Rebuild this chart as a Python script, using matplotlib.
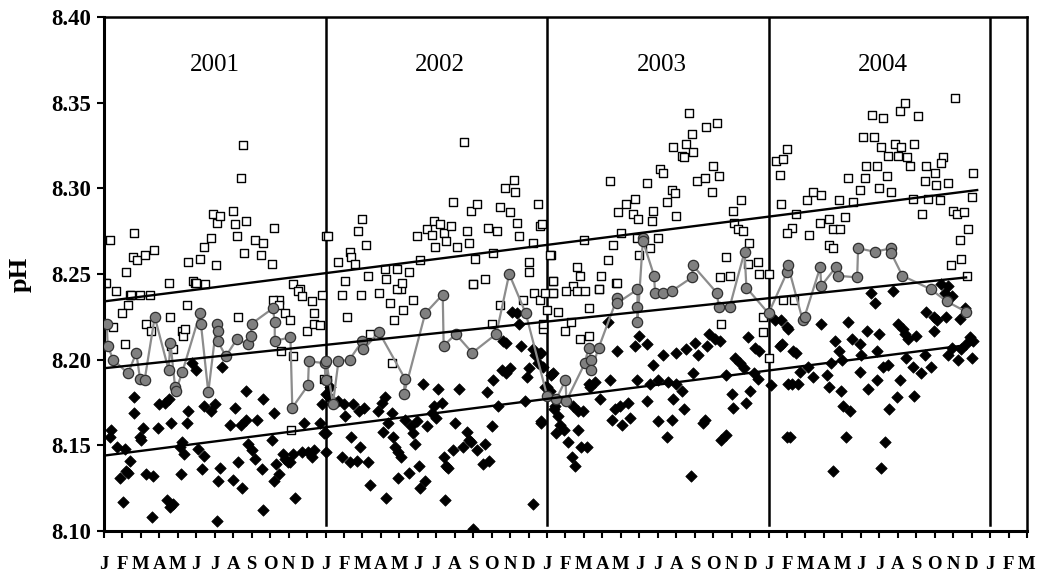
import numpy as np
import matplotlib
matplotlib.use("Agg")
import matplotlib.pyplot as plt

# months since Jan 2001 (0 = 1 Jan 2001), pH values
sq_x = [0.3, 0.05, 0.65, 1.6, 1.2, 1.55, 1.8, 2.2, 2.7, 1.4, 1.95, 2.5, 3.5, 4.55, 5.2, 4.8, 4.95, 5.45,
        6.05, 5.4, 5.8, 6.1, 5.9, 6.3, 7.0, 7.1, 7.7, 7.2, 7.6, 7.4, 7.55, 8.2, 8.6, 8.5, 9.1, 9.2, 10.25,
        10.6, 9.5, 11.8, 12.05,
        0.1, 1.45, 1.3, 0.95, 0.5, 1.15, 2.3, 2.55, 3.55, 3.65, 3.75, 4.2, 4.3, 4.4, 4.5, 5.0, 7.25, 9.15,
        9.5, 9.8, 10.1, 10.5, 9.6, 10.25, 10.7, 11.0, 11.25, 11.35, 11.4, 11.7, 10.15, 11.9, 12.1,
        12.15, 13.95, 13.75, 14.2, 13.3, 13.4, 13.6, 12.7, 13.05, 14.3, 15.2, 15.3, 15.85, 16.1, 16.5, 17.1,
        16.95, 17.5, 17.85, 17.75, 17.95, 18.2, 18.4, 18.8, 18.55, 19.1, 19.65, 19.75, 18.9, 19.9, 20.2,
        19.5, 20.1, 20.0, 20.65, 20.8, 21.3, 21.1, 21.45, 22.0, 21.7, 22.2, 22.25, 22.35, 22.5, 23.25, 23.5,
        23.6, 23.0, 23.05, 24.2, 24.35, 23.3,
        12.9, 13.15, 13.9, 14.4, 14.9, 15.5, 15.85, 16.15, 16.2, 15.7, 15.6, 16.75, 21.45, 21.0, 20.0, 22.7,
        23.6, 23.8, 24.35,
        23.75, 24.15, 24.3, 25.6, 25.8, 26.0, 25.4, 26.9, 26.8, 27.3, 27.4, 27.75, 27.85, 28.0, 27.6, 28.3,
        28.75, 28.65, 28.95, 29.0, 28.85, 29.4, 29.7, 29.75, 30.0, 29.6, 30.1, 30.3, 30.5, 30.75, 30.95,
        31.0, 30.8, 31.3, 31.4, 31.55, 31.85, 31.7, 31.9, 32.6, 33.2, 32.1, 32.55, 33.0, 33.3, 32.95, 34.1,
        34.5, 34.15, 34.35, 34.6, 34.95, 33.7, 33.9, 33.35, 34.9, 35.45, 35.5, 36.05, 36.4, 37.0, 36.6, 36.7,
        23.9, 24.0, 23.8, 24.35, 24.6, 24.95, 25.3, 25.05, 25.6, 26.3, 25.8, 26.3, 26.05, 26.8, 27.8, 33.45,
        35.7, 35.7, 36.05,
        36.8, 38.1, 38.4, 38.85, 37.25, 37.5, 38.2, 38.8, 39.3, 39.5, 39.85, 39.3, 39.5, 39.8, 40.15, 40.6,
        40.3, 40.95, 41.2, 41.3, 41.1, 41.7, 41.85, 42.0, 42.1, 41.6, 42.2, 42.4, 42.65, 42.45, 42.85, 43.0,
        43.2, 43.1, 43.4, 43.5, 43.65, 43.9, 44.1, 43.8, 44.3, 44.55, 44.65, 45.0, 45.3, 44.5, 45.05, 45.45,
        45.35, 45.7, 46.1, 46.0, 46.2, 46.6, 47.0, 47.1, 46.8, 46.35, 46.45, 45.9, 46.75, 36.8, 37.4, 37.0]
sq_y = [8.270, 8.245, 8.240, 8.274, 8.251, 8.260, 8.258, 8.261, 8.264, 8.238, 8.238, 8.238, 8.245, 8.257,
        8.259, 8.246, 8.245, 8.244, 8.255, 8.266, 8.271, 8.280, 8.285, 8.284, 8.287, 8.279, 8.281, 8.272,
        8.262, 8.306, 8.325, 8.270, 8.268, 8.261, 8.256, 8.277, 8.244, 8.241, 8.235, 8.238, 8.272,
        8.245, 8.238, 8.232, 8.227, 8.219, 8.209, 8.221, 8.217, 8.225, 8.208, 8.206, 8.217, 8.214, 8.218,
        8.232, 8.245, 8.225, 8.235, 8.232, 8.227, 8.223, 8.240, 8.205, 8.202, 8.237, 8.217, 8.234, 8.227,
        8.221, 8.220, 8.159, 8.189, 8.188,
        8.272, 8.282, 8.275, 8.267, 8.263, 8.260, 8.256, 8.257, 8.246, 8.249, 8.253, 8.247, 8.253, 8.241,
        8.251, 8.258, 8.272, 8.276, 8.281, 8.273, 8.266, 8.279, 8.274, 8.278, 8.269, 8.266, 8.275, 8.268,
        8.292, 8.287, 8.291, 8.327, 8.259, 8.244, 8.247, 8.277, 8.275, 8.262, 8.289, 8.286, 8.300, 8.305,
        8.298, 8.280, 8.272, 8.268, 8.291, 8.278, 8.257, 8.251, 8.261, 8.246, 8.239,
        8.238, 8.225, 8.238, 8.215, 8.239, 8.233, 8.241, 8.245, 8.229, 8.223, 8.198, 8.235, 8.232, 8.221,
        8.244, 8.235, 8.235, 8.218, 8.239,
        8.279, 8.261, 8.246, 8.254, 8.249, 8.270, 8.243, 8.249, 8.241, 8.258, 8.304, 8.245, 8.286, 8.274,
        8.267, 8.291, 8.294, 8.285, 8.282, 8.261, 8.271, 8.303, 8.281, 8.287, 8.271, 8.265, 8.311, 8.309,
        8.292, 8.299, 8.297, 8.284, 8.324, 8.319, 8.318, 8.326, 8.332, 8.344, 8.321, 8.336, 8.338, 8.304,
        8.306, 8.313, 8.307, 8.298, 8.287, 8.293, 8.280, 8.276, 8.275, 8.268, 8.260, 8.249, 8.248, 8.256,
        8.257, 8.250, 8.250, 8.316, 8.323, 8.308, 8.291,
        8.239, 8.229, 8.221, 8.239, 8.228, 8.217, 8.222, 8.240, 8.240, 8.230, 8.212, 8.214, 8.240, 8.241,
        8.245, 8.221, 8.216, 8.225, 8.201,
        8.317, 8.293, 8.298, 8.296, 8.277, 8.285, 8.273, 8.280, 8.282, 8.276, 8.276, 8.267, 8.265, 8.293,
        8.283, 8.292, 8.306, 8.299, 8.306, 8.313, 8.330, 8.330, 8.313, 8.300, 8.324, 8.343, 8.341, 8.307,
        8.298, 8.319, 8.326, 8.319, 8.324, 8.345, 8.350, 8.318, 8.313, 8.326, 8.342, 8.294, 8.285, 8.313,
        8.294, 8.309, 8.293, 8.304, 8.302, 8.318, 8.315, 8.303, 8.353, 8.287, 8.285, 8.286, 8.295, 8.309,
        8.276, 8.270, 8.259, 8.255, 8.249, 8.235, 8.235, 8.274]

ci_x = [0.15, 0.2, 0.5, 1.3, 1.75, 1.95, 2.2, 2.75, 3.5, 3.6, 3.85, 3.9, 4.25, 5.2, 5.25, 5.65, 6.1, 6.15,
        6.15, 6.6, 7.2, 7.8, 7.95, 8.0, 9.15, 9.25, 9.25, 10.1, 10.2, 11.05, 11.1, 11.95, 12.0,
        12.05, 12.4, 12.7, 13.3, 14.0, 14.05, 14.9, 16.3, 16.25, 17.4, 18.35, 18.4, 19.05, 19.95, 21.25,
        21.95, 22.85,
        24.0, 24.5, 25.0, 25.05, 26.05, 26.25, 26.4, 26.4, 26.8, 27.8, 27.8, 28.9, 28.9, 28.9, 29.2, 29.2,
        29.8, 29.85, 30.3, 30.75, 31.85, 31.9, 33.2, 33.3, 33.9, 34.7, 34.8, 36.0,
        37.0, 37.05, 37.85, 37.95, 38.8, 38.85, 39.65, 39.75, 40.8, 40.85, 41.75, 42.65, 42.65, 43.25, 44.8,
        45.65, 46.7]
ci_y = [8.221, 8.208, 8.200, 8.192, 8.204, 8.189, 8.188, 8.225, 8.194, 8.210, 8.184, 8.182, 8.193, 8.227,
        8.221, 8.181, 8.221, 8.217, 8.211, 8.202, 8.212, 8.209, 8.214, 8.221, 8.230, 8.222, 8.211, 8.213,
        8.172, 8.185, 8.199, 8.198, 8.188,
        8.199, 8.174, 8.199, 8.200, 8.211, 8.206, 8.216, 8.189, 8.180, 8.227, 8.238, 8.208, 8.215, 8.204,
        8.215, 8.250, 8.227,
        8.179, 8.177, 8.188, 8.176, 8.198, 8.207, 8.200, 8.194, 8.207, 8.236, 8.233, 8.241, 8.231, 8.222,
        8.271, 8.269, 8.249, 8.239, 8.239, 8.240, 8.248, 8.255, 8.239, 8.231, 8.231, 8.263, 8.242, 8.227,
        8.251, 8.255, 8.223, 8.225, 8.254, 8.243, 8.254, 8.249, 8.248, 8.265, 8.263, 8.265, 8.262, 8.249,
        8.241, 8.234, 8.228]

di_x = [0.4, 0.3, 0.7, 1.15, 0.85, 1.05, 1.2, 1.4, 1.3, 1.6, 1.65, 1.95, 2.1, 2.0, 2.25, 2.6, 2.65, 2.9,
        3.0, 3.3, 3.5, 3.65, 3.4, 3.55, 3.75, 4.1, 4.25, 4.35, 4.15, 4.55, 4.5, 4.75, 5.0, 5.1, 5.4, 5.3,
        5.4, 5.8, 6.0, 6.1, 6.2, 6.3, 6.4, 7.1, 6.8, 7.0, 7.25, 7.5, 7.4, 7.7, 7.7, 7.8, 8.0, 8.2, 8.3, 8.55,
        8.6, 8.6, 9.1, 9.2, 9.2, 9.3, 9.5, 9.7, 9.8, 9.95, 10.1, 10.35, 10.25, 10.7, 10.85, 11.05, 11.25,
        11.4, 11.7, 11.8, 11.9, 12.0, 12.05,
        12.0, 12.25, 12.2, 12.7, 13.0, 13.05, 13.4, 13.5, 13.8, 13.85, 14.1, 12.9, 13.35, 13.7, 14.3, 14.4,
        14.85, 15.05, 15.2, 15.1, 15.4, 15.6, 15.3, 15.65, 15.75, 15.95, 16.1, 16.3, 16.75, 16.65, 16.85,
        16.95, 16.5, 15.95, 17.05, 17.1, 17.4, 17.3, 17.5, 17.75, 17.9, 18.1, 18.3, 18.0, 18.45, 18.4,
        18.55, 18.65, 18.9, 19.0, 19.25, 19.45, 19.65, 19.75, 19.9, 20.0, 20.2, 20.65, 20.55, 20.85, 20.75,
        21.0, 21.1, 21.35, 21.55, 21.8, 22.0, 21.6, 21.8, 22.1, 22.35, 22.5, 22.6, 22.8, 22.9, 23.05,
        23.25, 23.35, 23.5, 23.6, 23.25, 23.7, 24.0, 24.2, 24.45,
        23.7, 23.8, 23.9, 23.7, 24.3, 24.15, 24.4, 24.6, 24.7, 24.5, 24.9, 25.15, 25.35, 25.5, 25.7, 25.4,
        25.7, 25.95, 25.85, 26.15, 26.25, 26.35, 26.6, 26.85, 27.3, 27.4, 27.5, 27.8, 27.7, 27.95, 28.05,
        28.4, 28.5, 28.75, 28.85, 29.0, 29.4, 29.4, 29.6, 29.75, 30.0, 30.0, 30.3, 30.5, 30.55, 30.75,
        30.85, 31.0, 31.0, 31.3, 31.4, 31.55, 31.8, 31.9, 32.0, 32.2, 32.45, 32.55, 32.65, 32.8, 33.1,
        33.35, 33.45, 33.7, 33.7, 34.0, 34.1, 34.2, 34.45, 34.65, 34.8, 34.9, 35.0, 35.2, 35.25, 35.45,
        35.5, 36.15, 36.35, 36.6, 37.0, 37.05, 37.0,
        36.7, 36.75, 37.05, 37.15, 37.3, 37.5, 37.25, 37.6, 37.7, 38.15, 38.4, 38.85, 39.15, 39.3, 39.5,
        39.6, 39.4, 39.8, 39.9, 40.0, 40.05, 40.2, 40.4, 40.3, 40.5, 40.95, 41.0, 40.95, 41.4, 41.35, 41.55,
        41.75, 41.85, 41.85, 42.0, 42.1, 42.3, 42.2, 42.45, 42.55, 42.75, 42.95, 43.0, 43.1, 43.3, 43.4,
        43.55, 43.45, 43.8, 43.9, 44.0, 44.25, 44.45, 44.55, 44.8, 44.95, 44.95, 45.1, 45.35, 45.55, 45.7,
        45.7, 45.95, 45.6, 45.95, 46.25, 46.35, 46.45, 46.65, 46.7, 46.9, 47.0, 47.1]
di_y = [8.159, 8.155, 8.149, 8.148, 8.131, 8.117, 8.135, 8.141, 8.134, 8.178, 8.169, 8.155, 8.160, 8.153,
        8.133, 8.108, 8.132, 8.160, 8.174, 8.175, 8.177, 8.163, 8.118, 8.114, 8.116, 8.149, 8.152, 8.145,
        8.133, 8.170, 8.163, 8.198, 8.194, 8.148, 8.144, 8.136, 8.173, 8.170, 8.174, 8.106, 8.129, 8.137,
        8.196, 8.172, 8.162, 8.130, 8.140, 8.125, 8.162, 8.182, 8.165, 8.151, 8.147, 8.142, 8.165, 8.136,
        8.177, 8.112, 8.153, 8.169, 8.129, 8.139, 8.133, 8.145, 8.142, 8.140, 8.140, 8.119, 8.145, 8.146,
        8.163, 8.146, 8.143, 8.147, 8.163, 8.174, 8.157, 8.146, 8.180,
        8.157, 8.184, 8.178, 8.176, 8.174, 8.167, 8.155, 8.174, 8.170, 8.149, 8.172, 8.143, 8.140, 8.141,
        8.140, 8.127, 8.170, 8.175, 8.178, 8.158, 8.163, 8.169, 8.119, 8.155, 8.149, 8.146, 8.143, 8.165,
        8.157, 8.161, 8.151, 8.164, 8.134, 8.131, 8.138, 8.125, 8.129, 8.186, 8.161, 8.169, 8.173, 8.183,
        8.175, 8.166, 8.118, 8.143, 8.138, 8.137, 8.147, 8.163, 8.183, 8.149, 8.158, 8.153, 8.152, 8.101,
        8.147, 8.151, 8.139, 8.141, 8.181, 8.161, 8.188, 8.173, 8.194, 8.192, 8.195, 8.211, 8.210, 8.228,
        8.227, 8.221, 8.208, 8.176, 8.190, 8.195, 8.206, 8.203, 8.198, 8.204, 8.116, 8.163, 8.184, 8.191,
        8.173,
        8.204, 8.196, 8.184, 8.164, 8.192, 8.182, 8.171, 8.167, 8.162, 8.157, 8.159, 8.152, 8.143, 8.138,
        8.159, 8.173, 8.170, 8.170, 8.149, 8.149, 8.186, 8.184, 8.187, 8.177, 8.222, 8.188, 8.165, 8.205,
        8.171, 8.173, 8.162, 8.175, 8.166, 8.208, 8.188, 8.214, 8.209, 8.176, 8.186, 8.197, 8.188, 8.164,
        8.203, 8.155, 8.187, 8.165, 8.177, 8.204, 8.186, 8.182, 8.171, 8.206, 8.132, 8.192, 8.210, 8.203,
        8.163, 8.165, 8.208, 8.215, 8.212, 8.211, 8.153, 8.156, 8.191, 8.180, 8.172, 8.201, 8.198, 8.195,
        8.175, 8.213, 8.182, 8.192, 8.207, 8.189, 8.205, 8.185, 8.223, 8.208, 8.155, 8.186, 8.219,
        8.223, 8.209, 8.218, 8.155, 8.205, 8.204, 8.186, 8.186, 8.193, 8.196, 8.190, 8.221, 8.191, 8.184,
        8.135, 8.211, 8.198, 8.205, 8.182, 8.200, 8.173, 8.155, 8.170, 8.222, 8.212, 8.209, 8.203, 8.193,
        8.183, 8.217, 8.239, 8.233, 8.205, 8.188, 8.215, 8.137, 8.152, 8.196, 8.197, 8.171, 8.240, 8.178,
        8.221, 8.188, 8.218, 8.215, 8.212, 8.201, 8.196, 8.179, 8.214, 8.192, 8.203, 8.228, 8.196, 8.225,
        8.217, 8.223, 8.244, 8.239, 8.243, 8.203, 8.237, 8.225, 8.207, 8.200, 8.224, 8.206, 8.230, 8.209,
        8.213, 8.201, 8.211]

# linear trends (start/end month, start/end pH)
trend_x = [[0, 47.3], [0, 46.7], [0, 47.1]]
trend_y = [[8.234, 8.299], [8.195, 8.248], [8.144, 8.209]]

years = ["2001", "2002", "2003", "2004"]
year_x = [6.0, 18.2, 30.2, 42.2]
year_lines = [12, 24, 36, 48]
month_labels = list("JFMAMJJASOND") * 4 + ["J", "F", "M"]

fig = plt.figure(figsize=(10.42, 5.74), dpi=100)
ax = fig.add_axes([0.0998, 0.0749, 0.8858, 0.8955])

ax.scatter(sq_x, sq_y, marker="s", s=38, facecolor="white", edgecolor="black", linewidth=1.0, zorder=2)
ax.scatter(di_x, di_y, marker="D", s=34, facecolor="black", edgecolor="black", linewidth=0.5, zorder=3)
ax.plot(ci_x, ci_y, color="#8c8c8c", lw=1.6, zorder=4)
ax.scatter(ci_x, ci_y, marker="o", s=55, facecolor="#808080", edgecolor="#303030", linewidth=0.9, zorder=5)

for tx, ty in zip(trend_x, trend_y):
    ax.plot(tx, ty, color="black", lw=1.7, zorder=6)

for xv in year_lines:
    ax.axvline(xv, ymin=0.012, ymax=1, color="black", lw=1.8, zorder=1)

for lab, xv in zip(years, year_x):
    ax.text(xv, 8.372, lab, ha="center", va="center", family="Liberation Serif", fontsize=18)

ax.set_xlim(0, 50)
ax.set_ylim(8.10, 8.40)
ax.set_yticks(np.arange(8.10, 8.401, 0.05))
ax.set_yticklabels(["%.2f" % v for v in np.arange(8.10, 8.401, 0.05)],
                   family="Liberation Serif", fontweight="bold", fontsize=16.5)
ax.set_xticks(np.arange(0, 51))
ax.set_xticklabels(month_labels, family="Liberation Serif", fontweight="bold", fontsize=13.5)
ax.tick_params(axis="x", direction="out", length=5, width=1.5, pad=13)
ax.tick_params(axis="y", direction="out", length=5, width=1.5, pad=4)
ax.set_ylabel("pH", family="Liberation Serif", fontweight="bold", fontsize=19, labelpad=14)

for side in ["left", "bottom"]:
    ax.spines[side].set_linewidth(2.2)
for side in ["top", "right"]:
    ax.spines[side].set_linewidth(1.8)

fig.savefig("out.png", dpi=100)
